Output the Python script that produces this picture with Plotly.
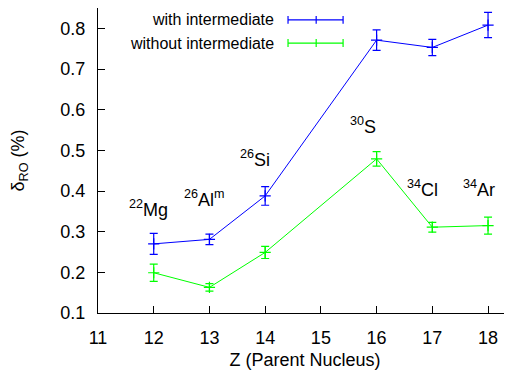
import plotly.graph_objects as go

z = [12, 13, 14, 16, 17, 18]
with_vals = [0.270, 0.281, 0.388, 0.771, 0.753, 0.808]
with_errs = [0.026, 0.013, 0.023, 0.025, 0.020, 0.031]
without_vals = [0.199, 0.163, 0.249, 0.479, 0.311, 0.315]
without_errs = [0.021, 0.009, 0.015, 0.018, 0.012, 0.021]

nuclei = ["<sup>22</sup>Mg", "<sup>26</sup>Al<sup>m</sup>", "<sup>26</sup>Si",
          "<sup>30</sup>S", "<sup>34</sup>Cl", "<sup>34</sup>Ar"]
label_x = [11.9, 12.92, 13.82, 15.76, 16.82, 17.84]
label_y = [0.356, 0.381, 0.48, 0.56, 0.405, 0.405]

x_ticks = [11, 12, 13, 14, 15, 16, 17, 18]
y_ticks = [0.1, 0.2, 0.3, 0.4, 0.5, 0.6, 0.7, 0.8]

BLUE = "#0000ff"
GREEN = "#00ff00"
FONT = "Liberation Sans, Arial, sans-serif"

fig = go.Figure()
for vals, errs, col, name in [(with_vals, with_errs, BLUE, "with intermediate"),
                              (without_vals, without_errs, GREEN, "without intermediate")]:
    fig.add_trace(go.Scatter(
        x=z, y=vals, name=name, mode="lines+markers",
        line=dict(color=col, width=1),
        marker=dict(symbol="cross-thin", size=8, line=dict(color=col, width=1.2)),
        error_y=dict(type="data", array=errs, visible=True, color=col, thickness=1.2, width=4),
        showlegend=False,
    ))

# legend drawn gnuplot style
legend_rows = [("with intermediate", BLUE, 0.961), ("without intermediate", GREEN, 0.885)]
for txt, col, py in legend_rows:
    fig.add_annotation(x=0.43, y=py, xref="paper", yref="paper", text=txt, showarrow=False,
                       xanchor="right", yanchor="middle", font=dict(size=16, color="#000000", family=FONT))
    fig.add_shape(type="line", xref="paper", yref="paper", x0=0.459, x1=0.592, y0=py, y1=py,
                  line=dict(color=col, width=1.2))
    for xx in (0.459, 0.527, 0.592):
        fig.add_shape(type="line", xref="paper", yref="paper", x0=xx, x1=xx, y0=py - 0.013, y1=py + 0.013,
                      line=dict(color=col, width=1.2))

for t, lx, ly in zip(nuclei, label_x, label_y):
    fig.add_annotation(x=lx, y=ly, text=t, showarrow=False, xanchor="center", yanchor="middle",
                       font=dict(size=18, color="#000000", family=FONT))

# page body adds an 8px offset; figure sized to fill the rest of the 512x370 window
fig.update_layout(
    width=504, height=362,
    margin=dict(l=90, r=0, t=0, b=57, autoexpand=False),
    plot_bgcolor="white", paper_bgcolor="white",
    font=dict(family=FONT, size=18, color="#000000"),
    xaxis=dict(range=[11, 18.43], tickvals=x_ticks, ticks="inside", ticklen=7, tickcolor="#000",
               showline=True, linecolor="#000", linewidth=1.3, showgrid=False, zeroline=False,
               ticklabelstandoff=8,
               title=dict(text="Z (Parent Nucleus)", standoff=6, font=dict(size=18)),
               tickfont=dict(size=18)),
    yaxis=dict(range=[0.1, 0.85], tickvals=y_ticks, ticktext=[f"{v:.1f}" for v in y_ticks],
               ticks="inside", ticklen=7, tickcolor="#000",
               showline=True, linecolor="#000", linewidth=1.3, showgrid=False, zeroline=False,
               ticklabelstandoff=8,
               title=dict(text="δ<sub>RO</sub> (%)", standoff=32, font=dict(size=18)),
               tickfont=dict(size=18)),
)

fig.write_html("out.html")
